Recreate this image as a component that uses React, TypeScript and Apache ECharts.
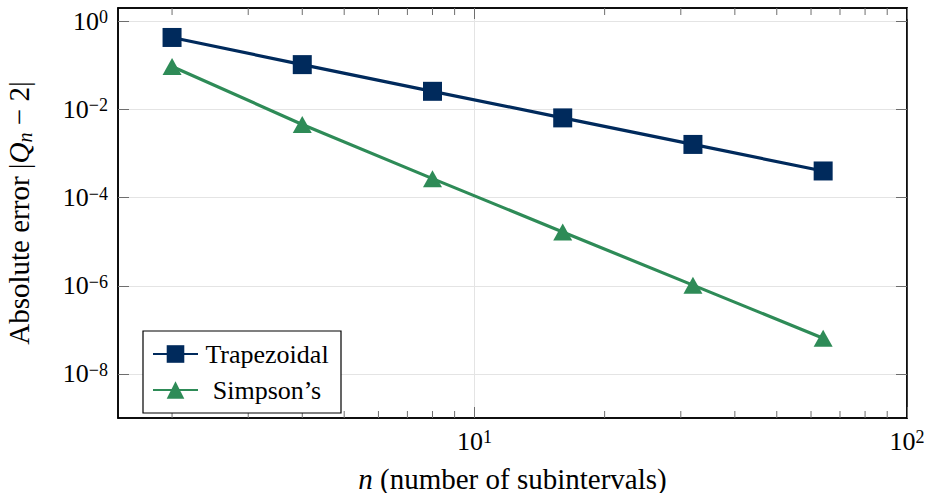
import React, { useEffect, useRef } from "react";
import * as echarts from "echarts";

// ---- data ----
const subintervals = [2, 4, 8, 16, 32, 64];
const trapezoidalError = [0.4292, 0.1039, 0.02577, 0.00643, 0.001607, 0.0004017];
const simpsonError = [0.0944, 0.00456, 0.0002692, 0.00001659, 0.000001033, 0.0000000645];
const seriesNames = ["Trapezoidal", "Simpson’s"];
const xMajorTicks = [10, 100];
const xMinorTicks = [2, 3, 4, 5, 6, 7, 8, 9, 20, 30, 40, 50, 60, 70, 80, 90];
const yMajorTicks = [1e-8, 1e-6, 1e-4, 1e-2, 1];
const X_MIN = 1.5;
const X_MAX = 100;
const Y_MIN = 1e-9;
const Y_MAX = 2;

const FONT = "Liberation Serif";
const NAVY = "#002a5c";
const GREEN = "#2e8b57";
const TICK = "#6e6e6e";
const GRID = "#e4e4e4";

function expLabel(v: number) {
  const l = Math.log10(v);
  const e = Math.round(l);
  if (Math.abs(l - e) > 1e-6) return "";
  const s = e < 0 ? "\u2212" + -e : String(e);
  return "{b|10}{s|" + s + "}";
}

const labelRich = {
  b: { fontFamily: FONT, fontSize: 26, lineHeight: 26, color: "#000" },
  s: { fontFamily: FONT, fontSize: 18, lineHeight: 16, verticalAlign: "top", color: "#000" },
};

export default function App() {
  const ref = useRef<HTMLDivElement>(null);
  useEffect(() => {
    if (!ref.current) return;
    const chart = echarts.init(ref.current, undefined, { renderer: "svg" });
    const tickStyle = { show: true, inside: true, length: 11, lineStyle: { color: TICK, width: 1 } };
    const option: any = {
      animation: false,
      backgroundColor: "#fff",
      textStyle: { fontFamily: FONT },
      grid: {
        left: 118,
        top: 8,
        width: 789,
        height: 410,
        containLabel: false,
        outerBoundsMode: "none",
        show: true,
        borderColor: "#000",
        borderWidth: 1.5,
        backgroundColor: "transparent",
      },
      legend: {
        data: seriesNames,
        orient: "vertical",
        left: 143,
        top: 331,
        padding: [10, 10, 10, 9],
        itemWidth: 45,
        itemHeight: 22,
        itemGap: 10,
        itemTextGap: 8,
        borderColor: "#000",
        borderWidth: 1.2,
        backgroundColor: "#fff",
        formatter: "{t|{name}}",
        textStyle: {
          rich: {
            t: { width: 128, align: "center", fontFamily: FONT, fontSize: 26, lineHeight: 22, color: "#000" },
          },
        },
      },
      xAxis: [
        {
          type: "log",
          logBase: 10,
          min: X_MIN,
          max: X_MAX,
          position: "bottom",
          axisLine: { show: true, lineStyle: { color: "#000", width: 1.5 } },
          axisTick: { ...tickStyle, customValues: xMajorTicks },
          axisLabel: {
            margin: 10,
            customValues: xMajorTicks,
            formatter: (v: number) => expLabel(v),
            rich: labelRich,
          },
          splitLine: { show: true, lineStyle: { color: GRID, width: 1 } },
          minorTick: { show: false },
          name: "{i|n} (number of subintervals)",
          nameLocation: "middle",
          nameGap: 46,
          nameTextStyle: {
            fontFamily: FONT,
            fontSize: 29,
            color: "#000",
            rich: { i: { fontFamily: FONT, fontSize: 29, fontStyle: "italic", color: "#000" } },
          },
        },
        {
          type: "log",
          logBase: 10,
          min: X_MIN,
          max: X_MAX,
          position: "top",
          axisLine: { show: true, lineStyle: { color: "#000", width: 1.5 } },
          axisTick: { ...tickStyle, customValues: xMajorTicks },
          axisLabel: { show: false },
          splitLine: { show: false },
        },
      ],
      yAxis: [
        {
          type: "log",
          logBase: 10,
          min: Y_MIN,
          max: Y_MAX,
          position: "left",
          axisLine: { show: true, lineStyle: { color: "#000", width: 1.5 } },
          axisTick: { ...tickStyle, customValues: yMajorTicks },
          axisLabel: {
            margin: 10,
            customValues: yMajorTicks,
            formatter: (v: number) => expLabel(v),
            rich: labelRich,
          },
          splitLine: { show: true, lineStyle: { color: GRID, width: 1 } },
          name: "Absolute error |{q|Q}{n|n} \u2212 2|",
          nameLocation: "middle",
          nameGap: 83,
          nameRotate: 90,
          nameTextStyle: {
            fontFamily: FONT,
            fontSize: 29,
            lineHeight: 32,
            color: "#000",
            rich: {
              q: { fontFamily: FONT, fontSize: 29, lineHeight: 32, fontStyle: "italic", color: "#000" },
              n: { fontFamily: FONT, fontSize: 20, lineHeight: 16, fontStyle: "italic", verticalAlign: "bottom", color: "#000" },
            },
          },
        },
        {
          type: "log",
          logBase: 10,
          min: Y_MIN,
          max: Y_MAX,
          position: "right",
          axisLine: { show: true, lineStyle: { color: "#000", width: 1.5 } },
          axisTick: { ...tickStyle, customValues: yMajorTicks },
          axisLabel: { show: false },
          splitLine: { show: false },
        },
      ],
      series: [
        {
          name: "minorTicks",
          type: "custom",
          xAxisIndex: 0,
          yAxisIndex: 0,
          silent: true,
          z: 1,
          data: xMinorTicks.map((v) => [v, Y_MIN]),
          renderItem: (params: any, api: any) => {
            const v = api.value(0);
            const b = api.coord([v, Y_MIN]);
            const t = api.coord([v, Y_MAX]);
            return {
              type: "group",
              children: [
                { type: "line", shape: { x1: b[0], y1: b[1], x2: b[0], y2: b[1] - 7 }, style: { stroke: TICK, lineWidth: 1 } },
                { type: "line", shape: { x1: t[0], y1: t[1], x2: t[0], y2: t[1] + 7 }, style: { stroke: TICK, lineWidth: 1 } },
              ],
            };
          },
        },
        {
          name: seriesNames[0],
          type: "line",
          data: subintervals.map((n, i) => [n, trapezoidalError[i]]),
          symbol: "rect",
          symbolSize: 19,
          color: NAVY,
          lineStyle: { color: NAVY, width: 3.2 },
          itemStyle: { color: NAVY },
          z: 4,
        },
        {
          name: seriesNames[1],
          type: "line",
          data: subintervals.map((n, i) => [n, simpsonError[i]]),
          symbol: "triangle",
          symbolSize: [19, 17],
          color: GREEN,
          lineStyle: { color: GREEN, width: 3.2 },
          itemStyle: { color: GREEN },
          z: 4,
        },
      ],
    };
    chart.setOption(option);
    return () => chart.dispose();
  }, []);
  return (
    <div
      ref={ref}
      style={{ position: "fixed", left: 0, top: 0, width: 926, height: 493, background: "#fff" }}
    />
  );
}
